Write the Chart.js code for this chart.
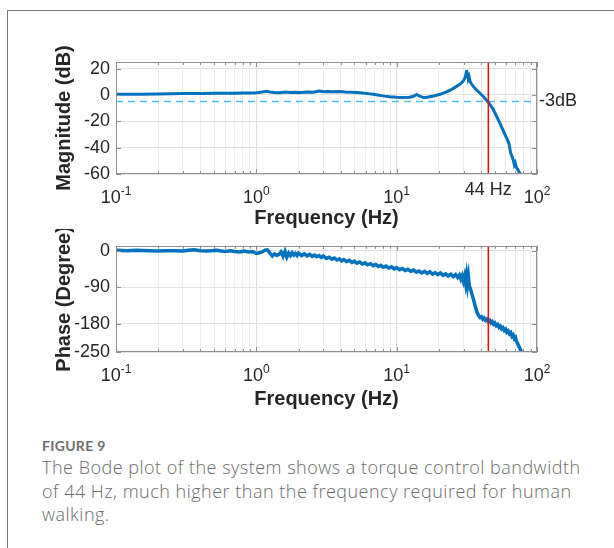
<!DOCTYPE html>
<html>
<head>
<meta charset="utf-8">
<script src="https://cdn.jsdelivr.net/npm/chart.js@4.4.1/dist/chart.umd.min.js"></script>
<style>
body{margin:0;width:614px;height:548px;background:#fff;overflow:hidden;position:relative;font-family:"Liberation Sans",Arial,sans-serif}
#frame{position:absolute;left:7px;top:10px;width:620px;height:560px;border-left:1px solid #7a7a7a;border-top:1px solid #7a7a7a}
#c1{position:absolute;left:0;top:0}
#c2{position:absolute;left:0;top:229px}
.fig{position:absolute;left:42px;top:437px;font:bold 14px Lato,sans-serif;color:#6d6d6d;letter-spacing:0.3px}
.cap{position:absolute;left:42px;top:456px;font:300 18px/23.5px "Open Sans",sans-serif;color:#6a6a6a;letter-spacing:0.5px}
</style>
</head>
<body>
<div id="frame"></div>
<canvas id="c1" width="614" height="230" style="width:614px;height:230px"></canvas>
<canvas id="c2" width="614" height="182" style="width:614px;height:182px"></canvas>
<div class="fig">FIGURE 9</div>
<div class="cap">The Bode plot of the system shows a torque control bandwidth<br>of 44 Hz, much higher than the frequency required for human<br>walking.</div>
<script>
// data
const magFreq = [0.1,0.15,0.2,0.3,0.4,0.5,0.6,0.7,0.8,0.9,1.0,1.1,1.18,1.25,1.35,1.47,1.6,1.75,1.9,2.05,2.3,2.55,2.8,3.0,3.2,3.5,3.9,4.3,4.8,5.5,6.2,6.8,7.5,8.2,8.9,10,11,12.3,13.2,13.9,14.5,15.5,16.5,18.3,20.4,22.6,24.5,26.5,28.2,29.5,30.2,30.8,31.2,31.5,31.8,32.1,32.4,32.8,33.4,34.3,35.3,37,39.3,42,45,48.5,51.4,55,58.5,61.5,63,64.9,66.5,68,68.9,70,71.5,73,74.5,75.4,76.5];
const magDb = [0.5,0.6,0.8,1.0,1.1,1.2,1.3,1.3,1.4,1.5,1.6,2.2,2.8,2.3,1.8,1.7,2.2,1.9,2.1,1.8,2.3,2.1,3.0,2.4,2.7,2.5,2.6,2.3,2.1,1.7,1.0,0.5,-0.3,-0.9,-1.3,-1.7,-1.9,-1.8,-1.0,0.3,-0.8,-2.0,-1.8,-0.8,0.5,2.3,4.0,6.3,8.0,10.0,11.5,13.5,16.0,19.0,14.5,17.0,12.5,14.0,10.0,8.0,6.3,3.8,1.3,-2.0,-5.5,-10.5,-16.0,-22.5,-29.0,-34.0,-36.5,-44.0,-47.0,-50.0,-53.0,-51.5,-55.5,-56.5,-58.5,-60.0,-61.0];

const phFreq = [0.1,0.12,0.14,0.17,0.2,0.23,0.26,0.3,0.33,0.36,0.4,0.44,0.48,0.52,0.56,0.6,0.65,0.7,0.76,0.82,0.88,0.94,1.0,1.05,1.1,1.15,1.2,1.25,1.3,1.35,1.4,1.45,
  1.5,1.55,1.6,1.65,1.7,1.75,1.8,1.85,1.9,1.95,2.0,2.1,2.2,2.3,2.4,2.5,2.6,2.7,2.8,2.9,3.0,3.15,3.3,3.45,3.6,3.75,3.9,4.05,4.2,4.4,4.6,4.8,5.0,5.2,5.45,5.7,5.95,6.2,6.5,6.8,7.1,7.4,7.7,8.0,8.4,8.8,9.2,9.6,10.0,10.5,11.0,11.5,12.0,12.6,13.2,13.8,14.4,15.1,15.8,16.5,17.2,18.0,18.8,19.6,20.5,21.4,22.3,23.3,24.3,25.3,26.3,27.2,28.0,28.7,29.3,29.9,30.5,31.0,31.5,32.0,32.5,33.0,
  33.6,34.3,35.3,36.3,37.3,38.3,39.3,40.2,41.1,42.0,43.0,44.0,45.0,46.0,47.0,48.0,49.0,50.0,51.2,52.4,53.6,54.8,56.0,57.2,58.5,59.8,61.0,62.3,63.6,65.0,66.3,67.6,69.0,70.3,71.5,72.8,74.0,75.3,76.5,77.5,78.5];
const phDeg = [1,0,1,0,-1,0,0,-1,1,2,0,-1,0,1,-1,-2,0,-2,-3,-1,-3,-2,-7,-5,-3,1,2,-6,-13,-8,-12,-9,
  -3,-14,-2,-16,-6,-12,-5,-11,-7,-12,-6,-12,-8,-13,-9,-14,-11,-15,-12,-17,-13,-19,-16,-21,-18,-23,-20,-25,-22,-27,-24,-29,-26,-31,-28,-33,-30,-35,-32,-37,-34,-39,-36,-41,-38,-43,-40,-45,-42,-47,-44,-49,-46,-51,-48,-53,-50,-55,-51,-56,-52,-58,-54,-59,-55,-61,-57,-62,-58,-64,-59,-66,-60,-70,-62,-75,-63,-80,-62,-84,-66,-88,
  -95,-106,-121,-137,-151,-160,-165,-163,-169,-166,-172,-169,-175,-172,-178,-175,-181,-178,-185,-182,-189,-186,-193,-190,-197,-194,-201,-198,-205,-202,-211,-208,-217,-214,-224,-229,-235,-240,-246,-250,-254];

const bandwidthHz = 45;
const cutoffDb = -5;
const cutoffLabel = '-3dB';
const bandwidthLabel = '44 Hz';

const xMin = 0.1, xMax = 100;
const xMajorTicks = [0.1, 1, 10, 100];
const xTickExp = ['-1', '0', '1', '2'];
const magTicks = [-60, -40, -20, 0, 20];
const magMin = -60, magMax = 25;
const phaseTicks = [-250, -180, -90, 0];
const phaseMin = -250, phaseMax = 12;

const blue = '#0072BD', red = '#FF0000', cyan = '#4DBEEE', ink = '#262626';
const FONT = '"Liberation Sans", Arial, sans-serif';

function isMajor(v){ const l = Math.log10(v); return Math.abs(l - Math.round(l)) < 1e-6; }
function pts(xs, ys){ return xs.map((x, i) => ({x: x, y: ys[i]})); }

const axesPlugin = {
  id: 'matlabAxes',
  afterDraw(chart, args, o){
    const {ctx, chartArea: a, scales: {x, y}} = chart;
    ctx.save();
    ctx.strokeStyle = '#8f8f8f';
    ctx.lineWidth = 1;
    ctx.beginPath();
    x.ticks.forEach(t => {
      const px = Math.round(x.getPixelForValue(t.value)) + 0.5;
      const len = isMajor(t.value) ? 5 : 3;
      ctx.moveTo(px, a.bottom); ctx.lineTo(px, a.bottom - len);
      ctx.moveTo(px, a.top); ctx.lineTo(px, a.top + len);
    });
    y.ticks.forEach(t => {
      const py = Math.round(y.getPixelForValue(t.value)) + 0.5;
      ctx.moveTo(a.left, py); ctx.lineTo(a.left + 5, py);
      ctx.moveTo(a.right, py); ctx.lineTo(a.right - 5, py);
    });
    ctx.stroke();
    ctx.strokeRect(Math.round(a.left) + 0.5, Math.round(a.top) + 0.5, Math.round(a.width) - 1, Math.round(a.height) - 1);

    // x tick labels 10^n
    ctx.fillStyle = ink;
    ctx.textBaseline = 'alphabetic';
    ctx.textAlign = 'left';
    const by = a.bottom + 29;
    xMajorTicks.forEach((v, i) => {
      const px = x.getPixelForValue(v);
      ctx.font = '18px ' + FONT;
      const w1 = ctx.measureText('10').width;
      ctx.font = '12px ' + FONT;
      const w2 = ctx.measureText(xTickExp[i]).width;
      const sx = px - (w1 + w2) / 2;
      ctx.font = '18px ' + FONT;
      ctx.fillText('10', sx, by);
      ctx.font = '12px ' + FONT;
      ctx.fillText(xTickExp[i], sx + w1, by - 8);
    });

    if (o.bwLabel) {
      ctx.font = '18px ' + FONT;
      ctx.textAlign = 'center';
      ctx.fillText(bandwidthLabel, x.getPixelForValue(bandwidthHz), a.bottom + 21);
    }
    if (o.cutLabel) {
      ctx.font = '18px ' + FONT;
      ctx.textAlign = 'left';
      ctx.textBaseline = 'middle';
      ctx.fillText(cutoffLabel, a.right + 2, y.getPixelForValue(cutoffDb));
    }
    ctx.restore();
  }
};

function makeChart(id, opt){
  return new Chart(document.getElementById(id), {
    type: 'line',
    data: {datasets: opt.datasets},
    options: {
      responsive: false,
      animation: false,
      events: [],
      layout: {padding: {left: 0, right: 77, top: opt.padTop, bottom: 0}},
      plugins: {legend: {display: false}, tooltip: {enabled: false}, matlabAxes: opt.labels},
      elements: {point: {radius: 0}, line: {tension: 0}},
      scales: {
        x: {
          type: 'logarithmic', min: xMin, max: xMax,
          afterBuildTicks(s){
            const t = [];
            for (let d = -1; d < 2; d++) for (let k = 1; k < 10; k++) t.push({value: k * Math.pow(10, d)});
            t.push({value: 100});
            s.ticks = t;
          },
          afterFit(s){ s.height = opt.xHeight; },
          ticks: {display: false},
          grid: {drawTicks: false, color: c => (c.tick && isMajor(c.tick.value)) ? '#dcdcdc' : '#ededed'},
          border: {display: false},
          title: {display: true, text: 'Frequency (Hz)', color: ink, font: {family: FONT, size: 20, weight: 'bold'}, padding: {top: 0, bottom: 0}}
        },
        y: {
          min: opt.yMin, max: opt.yMax,
          afterBuildTicks(s){ s.ticks = opt.yTicks.map(v => ({value: v})); },
          afterFit(s){ s.width = 116; },
          ticks: {color: ink, padding: 6, font: {family: FONT, size: 18}, callback: v => String(v)},
          grid: {drawTicks: false, color: '#e2e2e2'},
          border: {display: false},
          title: {display: true, text: opt.yTitle, color: ink, font: {family: FONT, size: 20, weight: 'bold'}, padding: {top: 52, bottom: 0}}
        }
      }
    },
    plugins: [axesPlugin]
  });
}

makeChart('c1', {
  padTop: 62, xHeight: 56, yMin: magMin, yMax: magMax, yTicks: magTicks, yTitle: 'Magnitude (dB)',
  labels: {bwLabel: true, cutLabel: true},
  datasets: [
    {data: [{x: bandwidthHz, y: magMin}, {x: bandwidthHz, y: magMax}], borderColor: red, borderWidth: 1.5, order: 0},
    {data: pts(magFreq, magDb), borderColor: blue, borderWidth: 3, order: 1},
    {data: [{x: xMin, y: cutoffDb}, {x: xMax, y: cutoffDb}], borderColor: cyan, borderWidth: 1.5, borderDash: [7, 5], order: 2}
  ]
});

makeChart('c2', {
  padTop: 12, xHeight: 59, yMin: phaseMin, yMax: phaseMax, yTicks: phaseTicks, yTitle: 'Phase (Degree)',
  labels: {bwLabel: false, cutLabel: false},
  datasets: [
    {data: [{x: bandwidthHz, y: phaseMin}, {x: bandwidthHz, y: phaseMax}], borderColor: red, borderWidth: 1.5, order: 0},
    {data: pts(phFreq, phDeg), borderColor: blue, borderWidth: 3.5, order: 1}
  ]
});
</script>
</body>
</html>
